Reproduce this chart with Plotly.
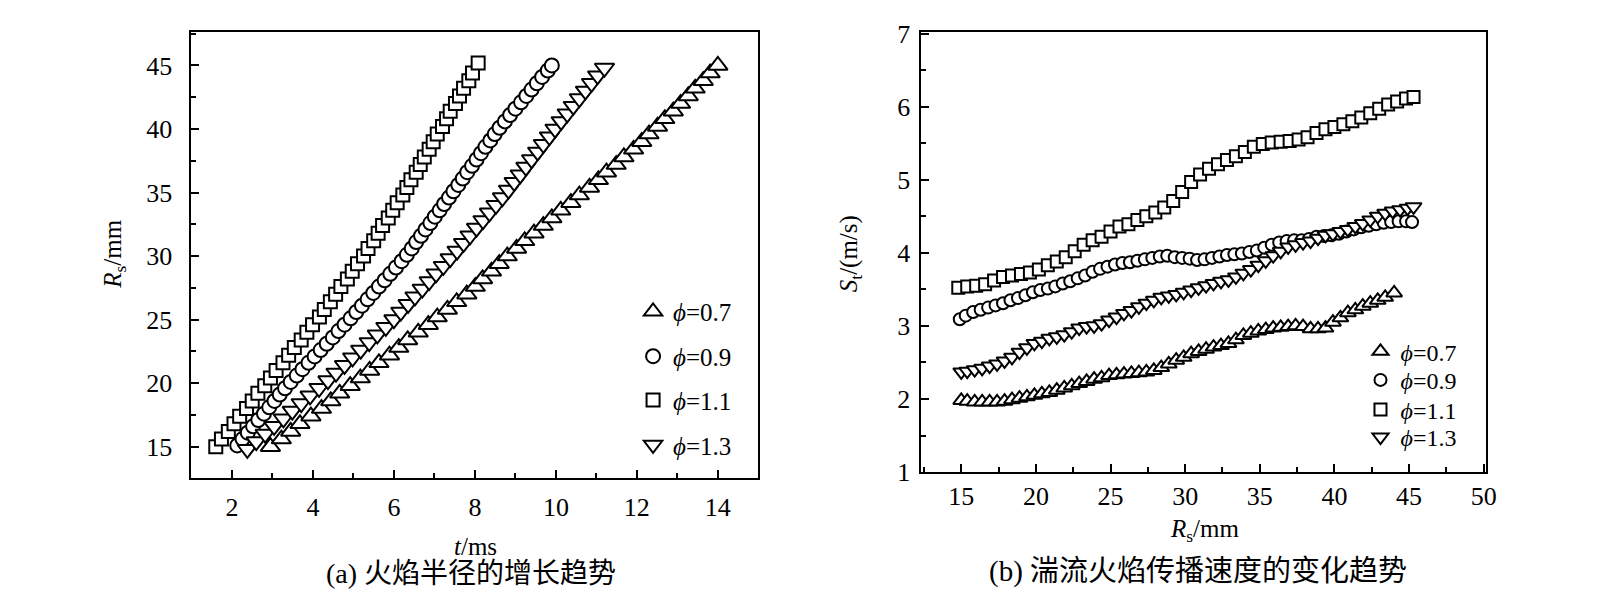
import plotly.graph_objects as go

# ---- (a) flame radius vs time ----
t_07 = [2.95, 3.22, 3.45, 3.68, 3.95, 4.21, 4.44, 4.66, 4.92, 5.17, 5.40, 5.63, 5.89, 6.12, 6.34,
        6.60, 6.85, 7.07, 7.32, 7.55, 7.80, 8.01, 8.19, 8.41, 8.60, 8.80, 9.03, 9.23, 9.46, 9.69,
        9.90, 10.12, 10.37, 10.58, 10.83, 11.05, 11.25, 11.49, 11.68, 11.92, 12.12, 12.30, 12.51,
        12.69, 12.90, 13.08, 13.27, 13.44, 13.64, 13.81, 14.00]
rs_07 = [15.0, 15.6, 16.2, 16.8, 17.4, 18.0, 18.6, 19.2, 19.8, 20.4, 21.0, 21.6, 22.2, 22.8, 23.4,
         24.0, 24.6, 25.2, 25.8, 26.4, 27.0, 27.6, 28.2, 28.8, 29.4, 30.0, 30.6, 31.2, 31.8, 32.4,
         33.0, 33.6, 34.2, 34.8, 35.4, 36.0, 36.6, 37.2, 37.8, 38.4, 39.0, 39.6, 40.2, 40.8, 41.4,
         42.0, 42.6, 43.2, 43.8, 44.4, 45.0]

t_09 = [2.13, 2.26, 2.39, 2.52, 2.65, 2.79, 2.92, 3.05, 3.18, 3.31, 3.45, 3.60, 3.74, 3.89, 4.04,
        4.19, 4.34, 4.49, 4.63, 4.78, 4.93, 5.07, 5.21, 5.35, 5.49, 5.63, 5.77, 5.91, 6.05, 6.19,
        6.32, 6.44, 6.55, 6.67, 6.78, 6.90, 7.01, 7.13, 7.24, 7.36, 7.47, 7.59, 7.70, 7.81, 7.93,
        8.04, 8.15, 8.26, 8.38, 8.49, 8.61, 8.74, 8.87, 9.00, 9.14, 9.27, 9.40, 9.53, 9.66, 9.80,
        9.90]
rs_09 = [15.1, 15.6, 16.1, 16.6, 17.1, 17.6, 18.1, 18.6, 19.1, 19.6, 20.1, 20.6, 21.1, 21.6, 22.1,
         22.6, 23.1, 23.6, 24.1, 24.6, 25.1, 25.6, 26.1, 26.6, 27.1, 27.6, 28.1, 28.6, 29.1, 29.6,
         30.1, 30.6, 31.1, 31.6, 32.1, 32.6, 33.1, 33.6, 34.1, 34.6, 35.1, 35.6, 36.1, 36.6, 37.1,
         37.6, 38.1, 38.6, 39.1, 39.6, 40.1, 40.6, 41.1, 41.6, 42.1, 42.6, 43.1, 43.6, 44.1, 44.6,
         45.0]

t_11 = [1.60, 1.74, 1.91, 2.05, 2.19, 2.36, 2.50, 2.64, 2.81, 2.95, 3.09, 3.26, 3.40, 3.54, 3.71,
        3.85, 3.99, 4.16, 4.28, 4.43, 4.56, 4.69, 4.85, 4.97, 5.10, 5.25, 5.36, 5.50, 5.61, 5.72,
        5.86, 5.97, 6.08, 6.22, 6.32, 6.42, 6.55, 6.65, 6.75, 6.87, 6.97, 7.07, 7.20, 7.30, 7.39,
        7.52, 7.62, 7.72, 7.85, 7.94, 8.08]
rs_11 = [15.0, 15.6, 16.2, 16.8, 17.4, 18.0, 18.6, 19.2, 19.8, 20.4, 21.0, 21.6, 22.2, 22.8, 23.4,
         24.0, 24.6, 25.2, 25.8, 26.4, 27.0, 27.6, 28.2, 28.8, 29.4, 30.0, 30.6, 31.2, 31.8, 32.4,
         33.0, 33.6, 34.2, 34.8, 35.4, 36.0, 36.6, 37.2, 37.8, 38.4, 39.0, 39.6, 40.2, 40.8, 41.4,
         42.0, 42.6, 43.2, 43.8, 44.4, 45.2]

t_13 = [2.38, 2.60, 2.82, 3.04, 3.27, 3.49, 3.71, 3.93, 4.15, 4.37, 4.57, 4.78, 4.98, 5.18, 5.39,
        5.59, 5.80, 6.00, 6.17, 6.35, 6.52, 6.70, 6.87, 7.04, 7.22, 7.39, 7.56, 7.72, 7.88, 8.04,
        8.20, 8.36, 8.52, 8.68, 8.83, 8.97, 9.12, 9.26, 9.40, 9.55, 9.69, 9.84, 9.98, 10.13, 10.28,
        10.43, 10.58, 10.73, 10.88, 11.03, 11.20]
rs_13 = [14.8, 15.4, 16.0, 16.6, 17.2, 17.8, 18.4, 19.0, 19.6, 20.2, 20.8, 21.4, 22.0, 22.6, 23.2,
         23.8, 24.4, 25.0, 25.6, 26.2, 26.8, 27.4, 28.0, 28.6, 29.2, 29.8, 30.4, 31.0, 31.6, 32.2,
         32.8, 33.4, 34.0, 34.6, 35.2, 35.8, 36.4, 37.0, 37.6, 38.2, 38.8, 39.4, 40.0, 40.6, 41.2,
         41.8, 42.4, 43.0, 43.6, 44.2, 44.8]

# ---- (b) turbulent flame speed vs radius ----
r_07 = [15.0, 15.4, 15.9, 16.4, 16.9, 17.4, 17.9, 18.4, 18.9, 19.4, 19.9, 20.4, 20.9, 21.4, 21.9,
        22.4, 22.9, 23.4, 23.9, 24.4, 24.9, 25.4, 25.9, 26.4, 26.9, 27.4, 27.9, 28.4, 28.9, 29.4,
        29.9, 30.4, 30.9, 31.4, 31.9, 32.4, 32.9, 33.4, 33.9, 34.4, 34.9, 35.4, 35.9, 36.4, 36.9,
        37.4, 37.9, 38.4, 38.9, 39.4, 39.9, 40.4, 40.9, 41.4, 41.9, 42.4, 42.9, 43.4, 44.0]
st_07 = [1.98, 1.97, 1.96, 1.96, 1.96, 1.96, 1.97, 1.99, 2.01, 2.03, 2.05, 2.07, 2.09, 2.12, 2.15,
         2.18, 2.21, 2.24, 2.27, 2.29, 2.32, 2.33, 2.34, 2.35, 2.36, 2.37, 2.39, 2.43, 2.48, 2.53,
         2.57, 2.62, 2.65, 2.68, 2.71, 2.73, 2.76, 2.81, 2.87, 2.90, 2.93, 2.95, 2.97, 2.98, 2.99,
         3.00, 2.99, 2.96, 2.96, 2.97, 3.05, 3.11, 3.18, 3.22, 3.27, 3.31, 3.35, 3.39, 3.45]

r_09 = [14.9, 15.3, 15.8, 16.3, 16.8, 17.3, 17.8, 18.3, 18.8, 19.3, 19.8, 20.3, 20.8, 21.3, 21.8,
        22.3, 22.8, 23.3, 23.8, 24.3, 24.8, 25.3, 25.8, 26.3, 26.8, 27.3, 27.8, 28.3, 28.8, 29.3,
        29.8, 30.3, 30.8, 31.3, 31.8, 32.3, 32.8, 33.3, 33.8, 34.3, 34.8, 35.3, 35.8, 36.3, 36.8,
        37.3, 37.8, 38.3, 38.8, 39.3, 39.8, 40.3, 40.8, 41.3, 41.8, 42.3, 42.8, 43.3, 43.8, 44.3,
        44.8, 45.2]
st_09 = [3.09, 3.14, 3.19, 3.22, 3.25, 3.28, 3.31, 3.35, 3.38, 3.42, 3.46, 3.49, 3.51, 3.54, 3.58,
         3.61, 3.65, 3.69, 3.74, 3.78, 3.81, 3.84, 3.86, 3.87, 3.89, 3.91, 3.93, 3.95, 3.96, 3.94,
         3.93, 3.92, 3.90, 3.91, 3.93, 3.95, 3.97, 3.98, 3.99, 4.01, 4.03, 4.07, 4.11, 4.14, 4.16,
         4.17, 4.17, 4.19, 4.22, 4.23, 4.24, 4.26, 4.29, 4.32, 4.35, 4.37, 4.39, 4.41, 4.42, 4.43,
         4.43, 4.42]

r_11 = [14.8, 15.4, 16.0, 16.6, 17.2, 17.8, 18.4, 19.0, 19.6, 20.2, 20.8, 21.4, 22.0, 22.6, 23.2,
        23.8, 24.4, 25.0, 25.6, 26.2, 26.8, 27.4, 28.0, 28.6, 29.2, 29.8, 30.4, 31.0, 31.6, 32.2,
        32.8, 33.4, 34.0, 34.6, 35.2, 35.8, 36.4, 37.0, 37.6, 38.2, 38.8, 39.4, 40.0, 40.6, 41.2,
        41.8, 42.4, 43.0, 43.6, 44.2, 44.8, 45.3]
st_11 = [3.52, 3.54, 3.55, 3.57, 3.62, 3.67, 3.69, 3.71, 3.73, 3.77, 3.83, 3.88, 3.94, 4.02, 4.11,
         4.17, 4.22, 4.29, 4.36, 4.39, 4.45, 4.50, 4.55, 4.62, 4.71, 4.83, 4.97, 5.07, 5.15, 5.21,
         5.27, 5.32, 5.38, 5.45, 5.49, 5.51, 5.52, 5.53, 5.55, 5.58, 5.64, 5.69, 5.72, 5.76, 5.80,
         5.85, 5.91, 5.97, 6.03, 6.07, 6.11, 6.13]

r_13 = [15.0, 15.4, 15.9, 16.4, 16.9, 17.4, 17.9, 18.4, 18.9, 19.4, 19.9, 20.4, 20.9, 21.4, 21.9,
        22.4, 22.9, 23.4, 23.9, 24.4, 24.9, 25.4, 25.9, 26.4, 26.9, 27.4, 27.9, 28.4, 28.9, 29.4,
        29.9, 30.4, 30.9, 31.4, 31.9, 32.4, 32.9, 33.4, 33.9, 34.4, 34.9, 35.4, 35.9, 36.4, 36.9,
        37.4, 37.9, 38.4, 38.9, 39.4, 39.9, 40.4, 40.9, 41.4, 41.9, 42.4, 42.9, 43.4, 43.9, 44.4,
        44.9, 45.3]
st_13 = [2.37, 2.38, 2.40, 2.42, 2.45, 2.48, 2.52, 2.57, 2.64, 2.70, 2.76, 2.79, 2.83, 2.85, 2.88,
         2.92, 2.97, 2.99, 3.00, 3.03, 3.08, 3.12, 3.17, 3.21, 3.26, 3.31, 3.35, 3.39, 3.41, 3.43,
         3.46, 3.49, 3.52, 3.55, 3.58, 3.61, 3.63, 3.67, 3.72, 3.77, 3.83, 3.89, 3.96, 4.02, 4.08,
         4.11, 4.14, 4.16, 4.20, 4.24, 4.26, 4.29, 4.32, 4.36, 4.40, 4.45, 4.50, 4.54, 4.57, 4.59,
         4.61, 4.63]

names = ["<i>ϕ</i>=0.7", "<i>ϕ</i>=0.9", "<i>ϕ</i>=1.1", "<i>ϕ</i>=1.3"]
symbols = ["triangle-up", "circle", "square", "triangle-down"]
sizes_a = [17, 14, 13, 17]
sizes_b = [14, 12, 12, 14]

FONT = "Liberation Serif, Times New Roman, Noto Sans CJK SC, serif"
W, H = 1600, 596

left_sets = [(t_07, rs_07), (t_09, rs_09), (t_11, rs_11), (t_13, rs_13)]
right_sets = [(r_07, st_07), (r_09, st_09), (r_11, st_11), (r_13, st_13)]

# legend item centres (pixels): one small legend per entry
leg_a_x, leg_a_y = 629, [305, 352, 398, 445]
leg_b_x, leg_b_y = 1361, [347, 377, 408, 437]

fig = go.Figure()
legends = {}
for i, (x, y) in enumerate(left_sets):
    key = "legend" if i == 0 else f"legend{i + 1}"
    legends[key] = dict(x=leg_a_x / W, y=1 - leg_a_y[i] / H, xanchor="left", yanchor="middle",
                        bgcolor="rgba(0,0,0,0)", font=dict(family=FONT, size=25, color="black"))
    fig.add_trace(go.Scatter(
        x=x, y=y, mode="markers", name=names[i], showlegend=True,
        xaxis="x", yaxis="y", legend=key,
        marker=dict(symbol=symbols[i], size=sizes_a[i], color="white",
                    line=dict(color="black", width=2)),
    ))
for i, (x, y) in enumerate(right_sets):
    key = f"legend{i + 5}"
    legends[key] = dict(x=leg_b_x / W, y=1 - leg_b_y[i] / H, xanchor="left", yanchor="middle",
                        bgcolor="rgba(0,0,0,0)", font=dict(family=FONT, size=24, color="black"))
    fig.add_trace(go.Scatter(
        x=x, y=y, mode="markers", name=names[i], showlegend=True,
        xaxis="x2", yaxis="y2", legend=key,
        marker=dict(symbol=symbols[i], size=sizes_b[i], color="white",
                    line=dict(color="black", width=2)),
    ))

axis_common = dict(
    showline=True, linecolor="black", linewidth=2, mirror=True,
    showgrid=False, zeroline=False,
    ticks="inside", ticklen=8, tickwidth=1.5, tickcolor="black",
    ticklabeloverflow="allow",
    tickfont=dict(family=FONT, size=26, color="black"),
)

fig.update_layout(
    width=W, height=H,
    margin=dict(l=0, r=0, t=0, b=0),
    paper_bgcolor="white", plot_bgcolor="white",
    font=dict(family=FONT, color="black"),
    showlegend=True,
    xaxis=dict(domain=[0.1154, 0.4719], range=[1, 15], dtick=2, tick0=0,
               minor=dict(ticks="inside", ticklen=5, dtick=1, tickcolor="black"),
               ticklabelstandoff=4, anchor="y", **axis_common),
    yaxis=dict(domain=[0.1946, 0.9799], range=[12.5, 47.6], dtick=5, tick0=0,
               minor=dict(ticks="inside", ticklen=5, dtick=2.5, tickcolor="black"),
               ticklabelstandoff=12, anchor="x", **axis_common),
    xaxis2=dict(domain=[0.5739, 0.9298], range=[12.27, 50.18], dtick=5, tick0=0,
                minor=dict(ticks="inside", ticklen=5, dtick=2.5, tickcolor="black"),
                ticklabelstandoff=0, anchor="y2", **axis_common),
    yaxis2=dict(domain=[0.2059, 0.9799], range=[1, 7.015], dtick=1, tick0=0,
                minor=dict(ticks="inside", ticklen=5, dtick=0.5, tickcolor="black"),
                ticklabelstandoff=3, anchor="x2", **axis_common),
    **legends,
)

annos = [
    dict(text="<i>R</i><sub>s</sub>/mm", x=107, y=245, textangle=-90, size=25),
    dict(text="<i>t</i>/ms", x=470, y=551, textangle=0, size=25),
    dict(text="(a) 火焰半径的增长趋势", x=466, y=580, textangle=0, size=28),
    dict(text="<i>S</i><sub>t</sub>/(m/s)", x=848, y=244, textangle=-90, size=25),
    dict(text="<i>R</i><sub>s</sub>/mm", x=1204, y=535, textangle=0, size=25),
    dict(text="(b) 湍流火焰传播速度的变化趋势", x=1197, y=578, textangle=0, size=29),
]
for a in annos:
    fig.add_annotation(
        text=a["text"], xref="paper", yref="paper",
        x=a["x"] / W, y=1 - a["y"] / H, xanchor="center", yanchor="middle",
        textangle=a["textangle"], showarrow=False,
        font=dict(family=FONT, size=a["size"], color="black"),
    )

fig.write_html("out.html")
